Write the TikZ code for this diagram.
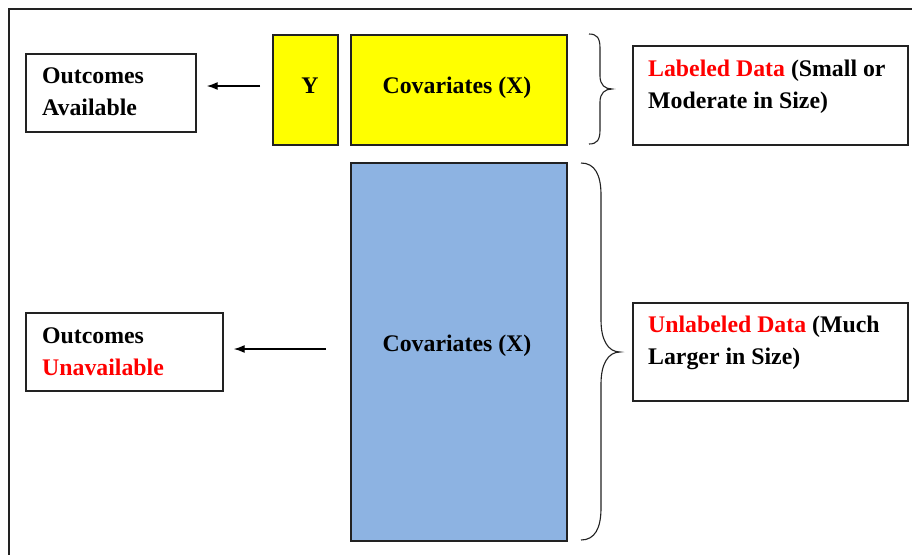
\documentclass[tikz,border=0pt]{standalone}
\usepackage{fontspec}
\setmainfont{Liberation Serif}
\usetikzlibrary{arrows.meta,calc}
\definecolor{ylw}{HTML}{FFFF00}
\definecolor{blu}{HTML}{8DB3E2}
\definecolor{rd}{HTML}{FF0000}
\definecolor{edge}{HTML}{222222}
\tikzset{
  box/.style={draw=edge, line width=1.7pt, inner sep=0pt, anchor=north west, font=\fontsize{23.8}{32}\selectfont\bfseries},
  txt/.style={inner sep=0pt, anchor=base west, font=\fontsize{23.8}{32}\selectfont\bfseries},
  arr/.style={-{Latex[length=11pt,width=8pt]}, line width=1.4pt, draw=black},
  brc/.style={line width=1.1pt, draw=edge},
}
\begin{document}
\begin{tikzpicture}[x=1pt,y=-1pt]
\useasboundingbox (0,0) rectangle (912,554);
\fill[white] (0,0) rectangle (912,554);
% outer frame (cropped at right and bottom)
\draw[line width=2.2pt, draw=edge] (9,9) rectangle (960,620);

% boxes
\node[box, minimum width=170pt, minimum height=78pt] (oa) at (25,53) {};
\node[box, fill=ylw, minimum width=65pt, minimum height=110pt] (y) at (272,34) {};
\node[box, fill=ylw, minimum width=216pt, minimum height=110pt] (cx1) at (350,34) {};
\node[box, minimum width=275pt, minimum height=99pt] (lab) at (632,45) {};
\node[box, fill=blu, minimum width=216pt, minimum height=378pt] (cx2) at (350,162) {};
\node[box, minimum width=197pt, minimum height=78pt] (ou) at (25,312) {};
\node[box, minimum width=275pt, minimum height=98pt] (unl) at (632,302) {};

% texts
\node[txt, anchor=base] (yt) at (310,93) {Y};
\node[txt, anchor=base] (cx1t) at (457,93) {Covariates (X)};
\node[txt, anchor=base] (cx2t) at (457,351) {Covariates (X)};
\node[txt] (oa1) at (42,83) {Outcomes};
\node[txt] (oa2) at (42,115) {Available};
\node[txt] (ou1) at (42,343) {Outcomes};
\node[txt] (ou2) at (42,375) {\textcolor{rd}{Unavailable}};
\node[txt] (lab1) at (648,76) {\textcolor{rd}{Labeled Data} (Small or};
\node[txt] (lab2) at (648,108) {Moderate in Size)};
\node[txt] (unl1) at (648,332) {\textcolor{rd}{Unlabeled Data} (Much};
\node[txt] (unl2) at (648,364) {Larger in Size)};

% arrows
\coordinate (a1) at (260,86);
\draw[arr] (a1) -- ($(a1 -| oa.east)+(10,0)$);
\coordinate (a2) at (326,349);
\draw[arr] (a2) -- ($(a2 -| ou.east)+(10,0)$);

% braces
\draw[brc] (589,34) .. controls (597,34) and (600,38) .. (600,48) -- (600,76)
  .. controls (600,85) and (605,89) .. (612,89)
  .. controls (605,89) and (600,93) .. (600,102) -- (600,130)
  .. controls (600,140) and (597,144) .. (589,144);
\draw[brc] (581,163) .. controls (595,163) and (601,175) .. (601,195) -- (601,320)
  .. controls (601,340) and (608,352) .. (620,352)
  .. controls (608,352) and (601,364) .. (601,384) -- (601,508)
  .. controls (601,528) and (595,540) .. (581,540);
\end{tikzpicture}
\end{document}
